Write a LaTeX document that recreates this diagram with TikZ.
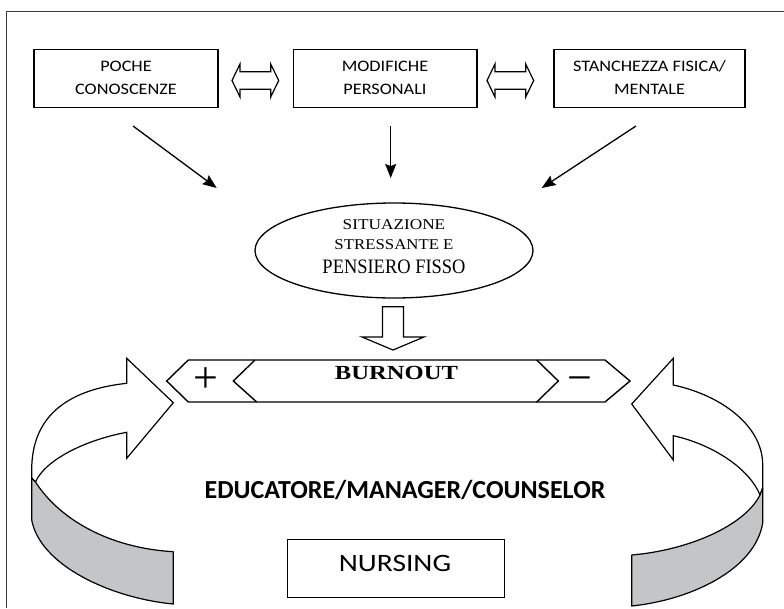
\documentclass[tikz,border=0pt]{standalone}
\usepackage{fontspec}
\setmainfont{Liberation Serif}
\newfontfamily\calib{Carlito}
\usetikzlibrary{arrows.meta,shapes.geometric}
\newcommand{\hs}[2]{\scalebox{#1}[1]{#2}}
\definecolor{bandgrey}{RGB}{196,197,199}
\definecolor{framegrey}{RGB}{60,60,60}
\begin{document}
\begin{tikzpicture}[x=1pt,y=-1pt,
  every node/.style={inner sep=0pt, outer sep=0pt},
  tbox/.style={draw, line width=1.3pt, minimum height=58.5pt, font=\calib\fontsize{16}{22.7}\selectfont},
  arr/.style={line width=1.3pt, -{Stealth[length=14pt,width=11pt,inset=2pt]}},
  blk/.style={draw, line width=1.2pt, fill=white, line join=miter},
  band/.style={draw, line width=1.2pt, fill=bandgrey, line join=round},
  sign/.style={anchor=base, font=\fontsize{44}{48}\selectfont},
  dbl/.pic={\draw[line width=1.2pt, line join=miter] (0,16.5) -- (8,0) -- (8,7.7) -- (38.7,7.7) -- (38.7,0) -- (46.7,16.5) -- (38.7,33) -- (38.7,25.3) -- (8,25.3) -- (8,33) -- cycle;},
]
\useasboundingbox (0,0) rectangle (784,608);
% frame
\draw[framegrey, line width=1pt] (784,11) -- (6,11) -- (6,608);

% top boxes
\node[tbox, minimum width=184pt] (b1) at (126,78.4) {\hs{1.14}{\begin{tabular}{@{}c@{}}POCHE\\CONOSCENZE\end{tabular}}};
\node[tbox, minimum width=183.7pt] (b2) at (385,78.4) {\hs{1.14}{\begin{tabular}{@{}c@{}}MODIFICHE\\PERSONALI\end{tabular}}};
\node[tbox, minimum width=191pt] (b3) at (649.5,78.4) {\hs{1.14}{\begin{tabular}{@{}c@{}}STANCHEZZA FISICA/\\MENTALE\end{tabular}}};

% double block arrows
\pic at (232,64) {dbl};
\pic at (487,64) {dbl};

% line arrows
\coordinate (a1s) at (133,126); \coordinate (a1e) at (216.7,188);
\coordinate (a2s) at (390.7,126); \coordinate (a2e) at (390.7,178);
\coordinate (a3s) at (636,126); \coordinate (a3e) at (541.7,188);
\draw[arr] (a1s) -- (a1e);
\draw[arr] (a2s) -- (a2e);
\draw[arr] (a3s) -- (a3e);

% ellipse
\node[draw, ellipse, line width=1.3pt, minimum width=278pt, minimum height=95pt] (ell) at (394,250.5) {};
\node[anchor=base, font=\fontsize{15}{18}\selectfont] (e1) at (394,229.3) {\hs{1.15}{SITUAZIONE}};
\node[anchor=base, font=\fontsize{15}{18}\selectfont] (e2) at (394,249.3) {\hs{1.12}{STRESSANTE E}};
\node[anchor=base, font=\fontsize{20.5}{24}\selectfont] (e3) at (394,273.5) {\hs{0.9}{PENSIERO FISSO}};

% block down arrow
\draw[blk] (382.5,306.7) -- (403.5,306.7) -- (403.5,337) -- (424,337) -- (393,350) -- (362,337) -- (382.5,337) -- cycle;

% burnout shape
\draw[line width=1.4pt, line join=miter] (166.7,381) -- (188.3,360) -- (605,360) -- (630,381) -- (605,402) -- (188.3,402) -- cycle;
\draw[line width=1.4pt, line join=miter] (255,360) -- (233.3,381) -- (256.7,402);
\draw[line width=1.4pt, line join=miter] (536.7,360) -- (558.3,381) -- (536.7,402);
\node[anchor=base, font=\bfseries\fontsize{20}{24}\selectfont] (burn) at (396.5,379.3) {\hs{1.23}{BURNOUT}};
\node[sign] (plus) at (206,392) {+};
\node[sign] (minus) at (580,392) {−};

% left curved arrow
\draw[blk] (173.3,402.7) -- (126.7,358.3) -- (126.7,383.3) .. controls (65,390) and (31.7,418) .. (31.7,470) -- (31.7,478) -- (35.5,482) .. controls (45,460) and (85,440) .. (126.7,432.3) -- (126.7,458.3) -- cycle;
\draw[band] (35.5,482) .. controls (60,520) and (110,548) .. (173.3,551.7) -- (173.3,604) .. controls (110,598) and (40,565) .. (31.7,520) -- (31.7,478) -- cycle;

% right curved arrow
\draw[blk] (631.7,404) -- (673.3,358.3) -- (673.3,385) .. controls (720,395) and (762.7,425) .. (762.7,465) -- (762.7,488) -- (760,495) .. controls (750,470) and (715,445) .. (673.3,435.7) -- (673.3,460) -- cycle;
\draw[band] (760,495) .. controls (745,525) and (690,550) .. (631.7,555) -- (631.7,606) .. controls (690,600) and (755,570) .. (762.7,523) -- (762.7,488) -- cycle;

% bottom texts
\node[anchor=base, font=\calib\bfseries\fontsize{26}{30}\selectfont] (edu) at (405,498.4) {EDUCATORE/MANAGER/COUNSELOR};
\node[draw, line width=1.3pt, minimum width=217pt, minimum height=58.4pt] (nurs) at (395.8,568.5) {};
\node[anchor=base, font=\calib\fontsize{25}{30}\selectfont] (nurst) at (395,571) {\hs{1.18}{NURSING}};
\end{tikzpicture}
\end{document}
